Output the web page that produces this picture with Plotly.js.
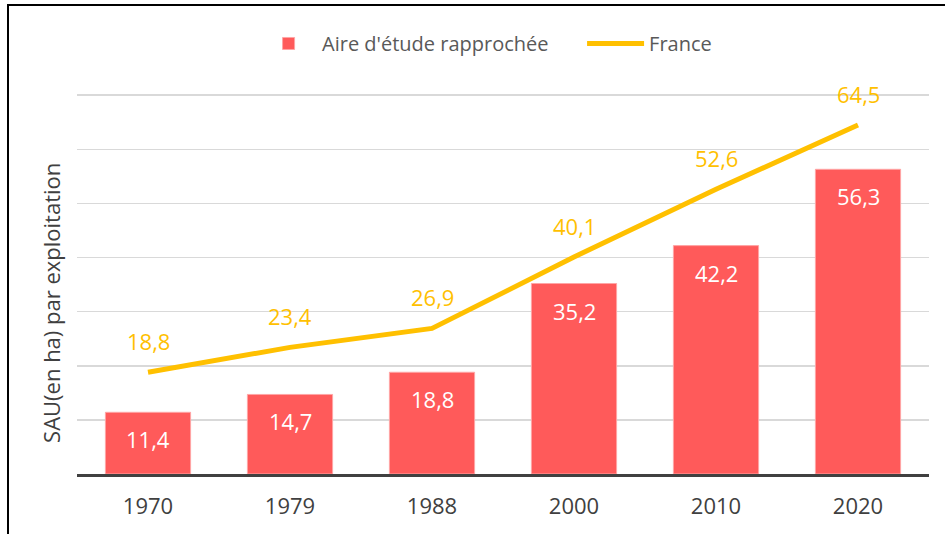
<!DOCTYPE html>
<html>
<head>
<meta charset="utf-8">
<script src="https://cdn.plot.ly/plotly-3.0.1.min.js"></script>
<style>
  html, body { margin: 0; padding: 0; background: #ffffff; }
  #wrap { position: absolute; left: 0; top: 0; width: 945px; height: 534px; overflow: hidden; }
  #frame { position: absolute; left: 7px; top: 4px; width: 960px; height: 560px; border-left: 2px solid #000; border-top: 2px solid #000; pointer-events: none; }
  #chart { position: absolute; left: 0; top: 0; width: 945px; height: 534px; }
</style>
</head>
<body>
<div id="wrap">
  <div id="chart"></div>
  <div id="frame"></div>
</div>
<script>
const years = ['1970', '1979', '1988', '2000', '2010', '2020'];
const aireValues = [11.4, 14.7, 18.8, 35.2, 42.2, 56.3];
const franceValues = [18.8, 23.4, 26.9, 40.1, 52.6, 64.5];
const seriesNames = ["Aire d'étude rapprochée", 'France'];
const yTitle = 'SAU(en ha) par exploitation';

const fmt = v => v.toFixed(1).replace('.', ',');
const FONT = 'Open Sans, Arial, sans-serif';

const traces = [
  {
    type: 'bar',
    name: seriesNames[0],
    x: years,
    y: aireValues,
    marker: { color: '#FF5A5A', line: { color: '#FFA5A5', width: 1 } },
    hoverinfo: 'none'
  },
  {
    type: 'scatter',
    mode: 'lines',
    name: seriesNames[1],
    x: years,
    y: franceValues,
    line: { color: '#FFC000', width: 5 },
    hoverinfo: 'none'
  }
];

const annotations = [];
years.forEach((yr, i) => {
  annotations.push({
    x: i, y: aireValues[i], xref: 'x', yref: 'y',
    text: fmt(aireValues[i]), showarrow: false,
    yshift: -27, font: { family: FONT, size: 22, color: '#FFFFFF' }
  });
  annotations.push({
    x: i, y: franceValues[i], xref: 'x', yref: 'y',
    text: fmt(franceValues[i]), showarrow: false,
    yshift: 31, font: { family: FONT, size: 22, color: '#FFC000' }
  });
});
annotations.push({
  x: 0, y: 0.449, xref: 'paper', yref: 'paper',
  xshift: -26, text: yTitle, textangle: -90, showarrow: false,
  xanchor: 'center', yanchor: 'middle',
  font: { family: FONT, size: 22, color: '#404040' }
});

const layout = {
  width: 945, height: 534,
  margin: { l: 77, r: 16, t: 93, b: 60, pad: 0 },
  paper_bgcolor: '#FFFFFF',
  plot_bgcolor: '#FFFFFF',
  font: { family: FONT, color: '#404040' },
  bargap: 0.4,
  showlegend: true,
  legend: {
    orientation: 'h', x: 0.209, xanchor: 'left', y: 1.13, yanchor: 'middle',
    font: { family: FONT, size: 20, color: '#595959' },
    traceorder: 'normal', itemwidth: 57, entrywidth: 255, entrywidthmode: 'pixels',
    bgcolor: 'rgba(0,0,0,0)'
  },
  xaxis: {
    type: 'category',
    range: [-0.5, 5.5],
    autorange: false,
    showgrid: false, zeroline: false,
    showline: true, linecolor: '#404040', linewidth: 3,
    ticks: '', ticklabelstandoff: 11,
    tickfont: { family: FONT, size: 22, color: '#404040' },
    fixedrange: true
  },
  yaxis: {
    range: [0, 70.4],
    autorange: false,
    dtick: 10, tick0: 0,
    showticklabels: false, ticks: '',
    showgrid: true, gridcolor: '#D9D9D9', gridwidth: 1.5,
    zeroline: false, showline: false,
    fixedrange: true
  },
  annotations: annotations
};

Plotly.newPlot('chart', traces, layout, { displayModeBar: false, staticPlot: true });
</script>
</body>
</html>
